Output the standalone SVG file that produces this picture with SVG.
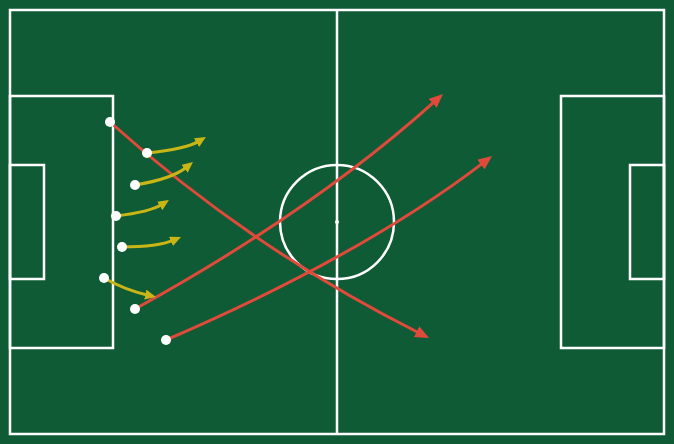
<svg xmlns="http://www.w3.org/2000/svg" width="674" height="444" viewBox="0 0 674 444">
<style>
.pitch{fill:none;stroke:#ffffff;stroke-width:2.5}
.red{fill:none;stroke:#e04a3a;stroke-width:3}
.yel{fill:none;stroke:#c9b516;stroke-width:3}
.dot{fill:#ffffff}
</style>
<defs>
<marker id="ar" markerUnits="userSpaceOnUse" markerWidth="15" markerHeight="13" refX="4" refY="6" orient="auto">
<path d="M0,0 L14,6 L0,12 z" fill="#e04a3a"/>
</marker>
<marker id="ay" markerUnits="userSpaceOnUse" markerWidth="12" markerHeight="11" refX="3" refY="5" orient="auto">
<path d="M0,0 L11,5 L0,10 z" fill="#c9b516"/>
</marker>
</defs>
<rect x="0" y="0" width="674" height="444" fill="#0f5b36"/>
<g id="pitch">
<rect class="pitch" x="10" y="10" width="654" height="424"/>
<line class="pitch" x1="337" y1="10" x2="337" y2="434"/>
<circle class="pitch" cx="337" cy="222" r="57"/>
<circle class="dot" cx="337" cy="222" r="2"/>
<rect class="pitch" x="10" y="96" width="103" height="252"/>
<rect class="pitch" x="10" y="165" width="34" height="114"/>
<rect class="pitch" x="561" y="96" width="103" height="252"/>
<rect class="pitch" x="630" y="165" width="34" height="114"/>
</g>
<g id="connectors">
<path class="red" d="M110,122 Q250,248 420.1,333.5" marker-end="url(#ar)"/>
<path class="red" d="M135,309 Q313,211 435.6,100.7" marker-end="url(#ar)"/>
<path class="red" d="M166,340 Q363,255 484.1,162.1" marker-end="url(#ar)"/>
<path class="yel" d="M147,153 Q186,149 199.1,141.1" marker-end="url(#ay)"/>
<path class="yel" d="M135,185 Q172,179 186.8,167" marker-end="url(#ay)"/>
<path class="yel" d="M116,216 Q150,212 162.2,204.3" marker-end="url(#ay)"/>
<path class="yel" d="M122,247 Q158,247 173.7,240.2" marker-end="url(#ay)"/>
<path class="yel" d="M104,278 Q125,290 148.2,295.2" marker-end="url(#ay)"/>
</g>
<g id="players">
<circle id="p1" class="dot" cx="110" cy="122" r="5"/>
<circle id="p2" class="dot" cx="147" cy="153" r="5"/>
<circle id="p3" class="dot" cx="135" cy="185" r="5"/>
<circle id="p4" class="dot" cx="116" cy="216" r="5"/>
<circle id="p5" class="dot" cx="122" cy="247" r="5"/>
<circle id="p6" class="dot" cx="104" cy="278" r="5"/>
<circle id="p7" class="dot" cx="135" cy="309" r="5"/>
<circle id="p8" class="dot" cx="166" cy="340" r="5"/>
</g>
</svg>
